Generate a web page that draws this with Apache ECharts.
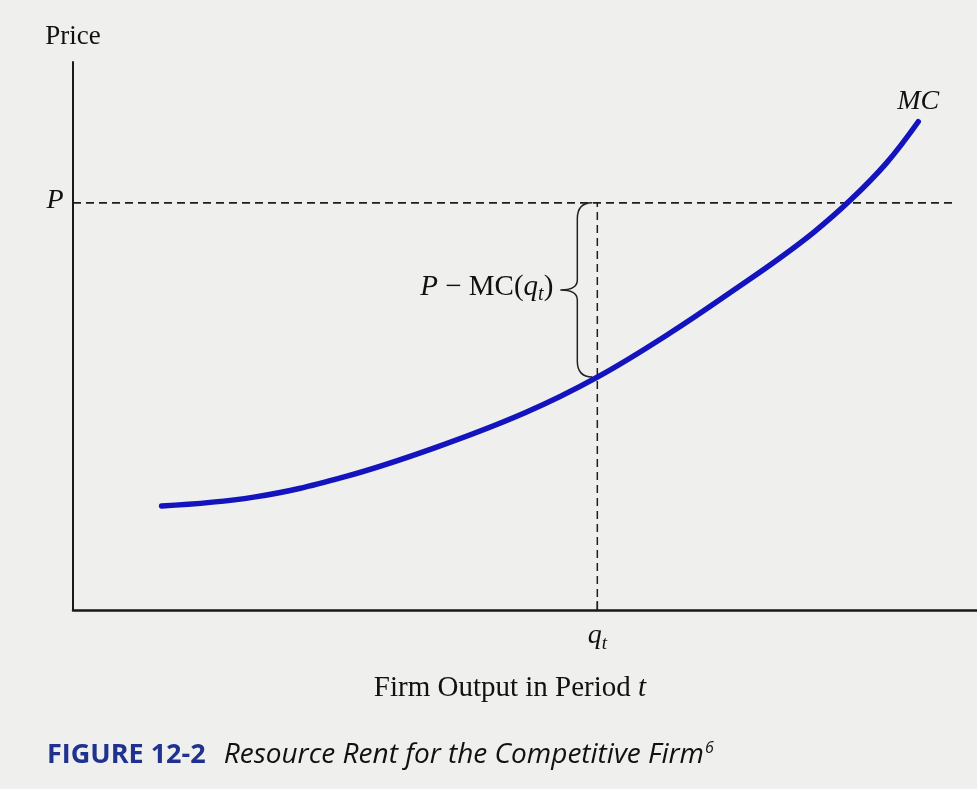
<!DOCTYPE html>
<html>
<head>
<meta charset="utf-8">
<script src="https://cdn.jsdelivr.net/npm/echarts@6/dist/echarts.min.js"></script>
<style>
  html, body { margin: 0; padding: 0; background: #efefed; }
  #main { width: 977px; height: 789px; }
</style>
</head>
<body>
<div id="main"></div>
<script>
// MC curve (output units 0-100, price units 0-100)
const outputX = [9.8, 20, 30, 40, 50, 58, 66, 74, 78, 82, 86, 90, 93.5];
const mcY     = [19.0, 20.6, 24.3, 29.6, 36.0, 42.5, 50.5, 59.4, 64.0, 69.0, 74.8, 81.6, 89.1];

const priceP = 74.3;   // P level
const qt = 58.0;       // q_t
const mcAtQt = 42.5;   // MC(q_t)
const pLineEnd = 97.3;

const serif = '"Liberation Serif", "DejaVu Serif", serif';
const sans = '"Open Sans", "Noto Sans", sans-serif';

const chart = echarts.init(document.getElementById('main'), null, { renderer: 'canvas' });

const mcData = outputX.map(function (x, i) { return [x, mcY[i]]; });

var option = {
  backgroundColor: '#efefed',
  animation: false,
  grid: { left: 73, right: 0, top: 62, bottom: 179 },
  xAxis: {
    type: 'value', min: 0, max: 100,
    name: 'Firm Output in Period {i|t}',
    nameLocation: 'middle',
    nameGap: 64,
    nameTextStyle: {
      fontFamily: serif, fontSize: 29, color: '#111',
      padding: [0, 30, 0, 0],
      rich: { i: { fontFamily: serif, fontSize: 29, fontStyle: 'italic', color: '#111' } }
    },
    axisLine: { onZero: false, lineStyle: { color: '#1a1a1a', width: 2.5 } },
    axisTick: { show: false },
    axisLabel: { show: false },
    splitLine: { show: false }
  },
  yAxis: {
    type: 'value', min: 0, max: 100,
    name: 'Price',
    nameLocation: 'end',
    nameGap: 12,
    nameTextStyle: { fontFamily: serif, fontSize: 27, color: '#111', align: 'center' },
    axisLine: { onZero: false, lineStyle: { color: '#1a1a1a', width: 2 } },
    axisTick: { show: false },
    axisLabel: { show: false },
    splitLine: { show: false }
  },
  graphic: [{
    type: 'text',
    left: 47,
    top: 740,
    style: {
      text: '{f|FIGURE 12-2}{g| }{i|Resource Rent for the Competitive Firm}{s|6}',
      rich: {
        f: { fontFamily: sans, fontSize: 27, fontWeight: 'bold', fill: '#1f328f' },
        g: { fontFamily: sans, fontSize: 27, width: 18 },
        i: { fontFamily: sans, fontSize: 28, fontStyle: 'italic', fill: '#111' },
        s: { fontFamily: sans, fontSize: 16, fontStyle: 'italic', fill: '#111', padding: [0, 0, 14, 1] }
      }
    }
  }],
  series: [
    {
      name: 'P',
      type: 'line',
      data: [[0, priceP], [pLineEnd, priceP]],
      symbol: 'none',
      lineStyle: { color: '#1e1e1e', width: 1.8, type: [8, 5] },
      z: 1
    },
    {
      name: 'qt',
      type: 'line',
      data: [[qt, 0], [qt, priceP]],
      symbol: 'none',
      lineStyle: { color: '#1e1e1e', width: 1.5, type: [8, 5] },
      z: 1
    },
    {
      name: 'MC',
      type: 'line',
      data: mcData,
      smooth: 0.4,
      symbol: 'none',
      lineStyle: { color: '#1414bf', width: 5.5, cap: 'round' },
      z: 3
    },
    {
      name: 'notes',
      type: 'custom',
      data: [0],
      z: 4,
      renderItem: function (params, api) {
        var top = api.coord([qt, priceP]);
        var bot = api.coord([qt, mcAtQt]);
        var origin = api.coord([0, 0]);
        var last = api.coord(mcData[mcData.length - 1]);
        var xr = top[0] - 5, xb = top[0] - 20, xt = top[0] - 37;
        var y1 = top[1], y2 = bot[1], ym = (y1 + y2) / 2;
        var path = 'M' + xr + ' ' + y1 +
          ' Q' + xb + ' ' + y1 + ' ' + xb + ' ' + (y1 + 16) +
          ' L' + xb + ' ' + (ym - 10) +
          ' Q' + xb + ' ' + ym + ' ' + xt + ' ' + ym +
          ' Q' + xb + ' ' + ym + ' ' + xb + ' ' + (ym + 10) +
          ' L' + xb + ' ' + (y2 - 16) +
          ' Q' + xb + ' ' + y2 + ' ' + xr + ' ' + y2;
        return {
          type: 'group',
          children: [
            {
              type: 'path',
              shape: { pathData: path },
              style: { fill: null, stroke: '#222', lineWidth: 1.5 }
            },
            {
              type: 'text',
              style: {
                text: '{i|P} − MC({i|q}{sub|t})',
                x: xt - 7, y: ym - 3,
                align: 'right', verticalAlign: 'middle',
                fontFamily: serif, fontSize: 29, fill: '#111',
                rich: {
                  i: { fontFamily: serif, fontSize: 29, fontStyle: 'italic' },
                  sub: { fontFamily: serif, fontSize: 20, fontStyle: 'italic', padding: [16, 0, 0, 0] }
                }
              }
            },
            {
              type: 'text',
              style: {
                text: 'P', x: origin[0] - 18, y: top[1] - 2,
                align: 'center', verticalAlign: 'middle',
                fontFamily: serif, fontSize: 28, fontStyle: 'italic', fill: '#111'
              }
            },
            {
              type: 'line',
              shape: { x1: top[0], y1: origin[1] - 9, x2: top[0], y2: origin[1] },
              style: { stroke: '#222', lineWidth: 1.5 }
            },
            {
              type: 'text',
              style: {
                text: '{q|q}{sub|t}', x: top[0], y: origin[1] + 26,
                align: 'center', verticalAlign: 'middle',
                rich: {
                  q: { fontFamily: serif, fontSize: 28, fontStyle: 'italic', fill: '#111' },
                  sub: { fontFamily: serif, fontSize: 19, fontStyle: 'italic', fill: '#111', padding: [16, 0, 0, 0] }
                }
              }
            },
            {
              type: 'text',
              style: {
                text: 'MC', x: last[0], y: last[1] - 20,
                align: 'center', verticalAlign: 'middle',
                fontFamily: serif, fontSize: 28, fontStyle: 'italic', fill: '#111'
              }
            }
          ]
        };
      }
    }
  ]
};

chart.setOption(option);
</script>
</body>
</html>
